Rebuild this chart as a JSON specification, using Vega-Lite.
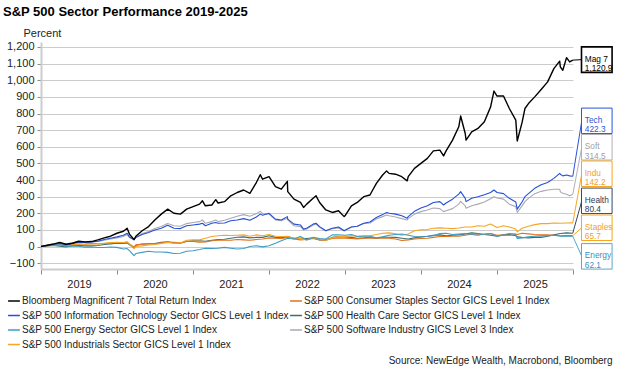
{
  "$schema": "https://vega.github.io/schema/vega-lite/v6.json",
  "width": 532,
  "height": 227,
  "autosize": "none",
  "padding": {"left": 41, "top": 42, "right": 51, "bottom": 105},
  "background": "white",
  "config": {
    "view": {"stroke": null},
    "font": "Liberation Sans",
    "text": {"font": "Liberation Sans"},
    "axisY": {
      "labelFontSize": 11,
      "labelColor": "#222222",
      "labelPadding": 3,
      "tickSize": 4,
      "tickColor": "#8a8a8a",
      "domainColor": "#cccccc",
      "domainWidth": 2,
      "grid": true,
      "gridColor": "#cccccc",
      "gridWidth": 1.2,
      "titleAngle": 0,
      "titleAlign": "left",
      "titleBaseline": "alphabetic",
      "titleX": -18,
      "titleY": -6,
      "titleFontSize": 11,
      "titleFontWeight": "normal",
      "titleColor": "#222222"
    }
  },
  "title": {
    "text": "S&P 500 Sector Performance 2019-2025",
    "anchor": "start",
    "frame": "group",
    "dx": -38,
    "offset": 8,
    "fontSize": 13,
    "fontWeight": "bold",
    "font": "Liberation Sans",
    "color": "#000000"
  },
  "datasets": {
    "series": [
      {"d": "2019-01-01", "m7": 0, "tech": 0, "soft": 0, "en": 0, "ind": 0, "stp": 0, "hc": 0},
      {"d": "2019-02-01", "m7": 8, "tech": 7, "soft": 8, "en": 8, "ind": 8, "stp": 5, "hc": 4},
      {"d": "2019-03-01", "m7": 15, "tech": 12, "soft": 14, "en": 9, "ind": 10, "stp": 8, "hc": 6},
      {"d": "2019-04-01", "m7": 25, "tech": 20, "soft": 22, "en": 12, "ind": 16, "stp": 10, "hc": 2},
      {"d": "2019-05-01", "m7": 14, "tech": 10, "soft": 15, "en": 2, "ind": 8, "stp": 8, "hc": -2},
      {"d": "2019-06-01", "m7": 20, "tech": 18, "soft": 22, "en": 4, "ind": 14, "stp": 12, "hc": 5},
      {"d": "2019-07-01", "m7": 32, "tech": 26, "soft": 30, "en": 2, "ind": 16, "stp": 14, "hc": 6},
      {"d": "2019-08-01", "m7": 28, "tech": 24, "soft": 28, "en": -4, "ind": 12, "stp": 15, "hc": 4},
      {"d": "2019-09-01", "m7": 30, "tech": 28, "soft": 27, "en": -3, "ind": 15, "stp": 18, "hc": 4},
      {"d": "2019-10-01", "m7": 40, "tech": 32, "soft": 30, "en": -6, "ind": 16, "stp": 17, "hc": 6},
      {"d": "2019-11-01", "m7": 52, "tech": 42, "soft": 38, "en": -6, "ind": 20, "stp": 18, "hc": 12},
      {"d": "2019-12-01", "m7": 62, "tech": 50, "soft": 45, "en": -3, "ind": 24, "stp": 21, "hc": 16},
      {"d": "2020-01-01", "m7": 80, "tech": 58, "soft": 52, "en": -5, "ind": 26, "stp": 24, "hc": 20},
      {"d": "2020-02-01", "m7": 92, "tech": 68, "soft": 60, "en": -15, "ind": 24, "stp": 22, "hc": 18},
      {"d": "2020-02-19", "m7": 110, "tech": 80, "soft": 72, "en": -12, "ind": 28, "stp": 27, "hc": 22},
      {"d": "2020-03-01", "m7": 75, "tech": 58, "soft": 55, "en": -25, "ind": 15, "stp": 16, "hc": 10},
      {"d": "2020-03-23", "m7": 42, "tech": 42, "soft": 40, "en": -55, "ind": -12, "stp": -3, "hc": -8},
      {"d": "2020-04-01", "m7": 62, "tech": 55, "soft": 55, "en": -42, "ind": 0, "stp": 10, "hc": 8},
      {"d": "2020-05-01", "m7": 95, "tech": 72, "soft": 78, "en": -35, "ind": 4, "stp": 14, "hc": 15},
      {"d": "2020-06-01", "m7": 120, "tech": 85, "soft": 90, "en": -28, "ind": 10, "stp": 15, "hc": 17},
      {"d": "2020-07-01", "m7": 160, "tech": 100, "soft": 108, "en": -33, "ind": 12, "stp": 16, "hc": 18},
      {"d": "2020-08-01", "m7": 195, "tech": 110, "soft": 120, "en": -33, "ind": 18, "stp": 22, "hc": 25},
      {"d": "2020-09-01", "m7": 225, "tech": 128, "soft": 138, "en": -35, "ind": 25, "stp": 26, "hc": 28},
      {"d": "2020-10-01", "m7": 200, "tech": 110, "soft": 125, "en": -42, "ind": 20, "stp": 26, "hc": 22},
      {"d": "2020-11-01", "m7": 195, "tech": 108, "soft": 122, "en": -40, "ind": 22, "stp": 22, "hc": 20},
      {"d": "2020-12-01", "m7": 225, "tech": 125, "soft": 138, "en": -28, "ind": 38, "stp": 30, "hc": 32},
      {"d": "2021-01-01", "m7": 240, "tech": 130, "soft": 145, "en": -25, "ind": 40, "stp": 30, "hc": 34},
      {"d": "2021-02-01", "m7": 255, "tech": 135, "soft": 150, "en": -18, "ind": 40, "stp": 26, "hc": 35},
      {"d": "2021-02-15", "m7": 275, "tech": 140, "soft": 160},
      {"d": "2021-03-01", "m7": 245, "tech": 125, "soft": 140, "en": -10, "ind": 50, "stp": 28, "hc": 32},
      {"d": "2021-04-01", "m7": 250, "tech": 140, "soft": 150, "en": -12, "ind": 60, "stp": 35, "hc": 38},
      {"d": "2021-04-20", "m7": 282, "tech": 145, "soft": 160},
      {"d": "2021-05-01", "m7": 262, "tech": 140, "soft": 150, "en": -10, "ind": 65, "stp": 38, "hc": 42},
      {"d": "2021-06-01", "m7": 270, "tech": 142, "soft": 158, "en": -5, "ind": 68, "stp": 38, "hc": 44},
      {"d": "2021-07-01", "m7": 305, "tech": 155, "soft": 170, "en": -10, "ind": 66, "stp": 38, "hc": 50},
      {"d": "2021-08-01", "m7": 325, "tech": 160, "soft": 182, "en": -15, "ind": 68, "stp": 42, "hc": 56},
      {"d": "2021-09-01", "m7": 340, "tech": 168, "soft": 192, "en": -12, "ind": 70, "stp": 40, "hc": 58},
      {"d": "2021-10-01", "m7": 320, "tech": 158, "soft": 182, "en": 0, "ind": 62, "stp": 38, "hc": 52},
      {"d": "2021-11-01", "m7": 385, "tech": 178, "soft": 198, "en": 5, "ind": 70, "stp": 42, "hc": 55},
      {"d": "2021-11-20", "m7": 432, "tech": 195, "soft": 212},
      {"d": "2021-12-01", "m7": 405, "tech": 188, "soft": 198, "en": -2, "ind": 65, "stp": 45, "hc": 55},
      {"d": "2022-01-01", "m7": 420, "tech": 200, "soft": 195, "en": 5, "ind": 72, "stp": 52, "hc": 65},
      {"d": "2022-02-01", "m7": 360, "tech": 165, "soft": 160, "en": 20, "ind": 62, "stp": 50, "hc": 55},
      {"d": "2022-03-01", "m7": 345, "tech": 160, "soft": 155, "en": 35, "ind": 60, "stp": 48, "hc": 52},
      {"d": "2022-03-30", "m7": 392, "tech": 180, "soft": 170},
      {"d": "2022-04-01", "m7": 330, "tech": 165, "soft": 160, "en": 50, "ind": 62, "stp": 55, "hc": 60},
      {"d": "2022-05-01", "m7": 285, "tech": 135, "soft": 125, "en": 45, "ind": 48, "stp": 45, "hc": 50},
      {"d": "2022-06-01", "m7": 265, "tech": 130, "soft": 120, "en": 60, "ind": 50, "stp": 40, "hc": 50},
      {"d": "2022-06-16", "m7": 235, "tech": 105, "soft": 100},
      {"d": "2022-07-01", "m7": 255, "tech": 110, "soft": 105, "en": 40, "ind": 40, "stp": 42, "hc": 48},
      {"d": "2022-08-01", "m7": 290, "tech": 135, "soft": 130, "en": 55, "ind": 52, "stp": 48, "hc": 52},
      {"d": "2022-08-15", "m7": 305, "tech": 140, "soft": 135},
      {"d": "2022-09-01", "m7": 265, "tech": 120, "soft": 115, "en": 48, "ind": 45, "stp": 40, "hc": 40},
      {"d": "2022-10-01", "m7": 220, "tech": 95, "soft": 95, "en": 45, "ind": 38, "stp": 38, "hc": 40},
      {"d": "2022-11-01", "m7": 205, "tech": 110, "soft": 108, "en": 70, "ind": 52, "stp": 48, "hc": 55},
      {"d": "2022-12-01", "m7": 215, "tech": 118, "soft": 112, "en": 70, "ind": 60, "stp": 52, "hc": 60},
      {"d": "2022-12-28", "m7": 180, "tech": 95, "soft": 95},
      {"d": "2023-01-01", "m7": 185, "tech": 98, "soft": 98, "en": 68, "ind": 60, "stp": 50, "hc": 58},
      {"d": "2023-02-01", "m7": 245, "tech": 118, "soft": 118, "en": 72, "ind": 65, "stp": 48, "hc": 55},
      {"d": "2023-03-01", "m7": 265, "tech": 122, "soft": 122, "en": 60, "ind": 62, "stp": 46, "hc": 50},
      {"d": "2023-04-01", "m7": 300, "tech": 140, "soft": 138, "en": 62, "ind": 65, "stp": 50, "hc": 52},
      {"d": "2023-05-01", "m7": 310, "tech": 148, "soft": 142, "en": 62, "ind": 65, "stp": 52, "hc": 56},
      {"d": "2023-06-01", "m7": 380, "tech": 175, "soft": 165, "en": 52, "ind": 72, "stp": 48, "hc": 50},
      {"d": "2023-07-01", "m7": 430, "tech": 192, "soft": 180, "en": 58, "ind": 80, "stp": 52, "hc": 56},
      {"d": "2023-07-20", "m7": 455, "tech": 205, "soft": 190},
      {"d": "2023-08-01", "m7": 440, "tech": 200, "soft": 185, "en": 68, "ind": 82, "stp": 50, "hc": 56},
      {"d": "2023-09-01", "m7": 435, "tech": 195, "soft": 178, "en": 72, "ind": 76, "stp": 45, "hc": 55},
      {"d": "2023-10-01", "m7": 420, "tech": 185, "soft": 168, "en": 75, "ind": 68, "stp": 36, "hc": 50},
      {"d": "2023-10-27", "m7": 395, "tech": 170, "soft": 160},
      {"d": "2023-11-01", "m7": 420, "tech": 180, "soft": 168, "en": 68, "ind": 75, "stp": 40, "hc": 45},
      {"d": "2023-12-01", "m7": 470, "tech": 212, "soft": 195, "en": 60, "ind": 95, "stp": 45, "hc": 52},
      {"d": "2024-01-01", "m7": 500, "tech": 232, "soft": 210, "en": 58, "ind": 100, "stp": 48, "hc": 58},
      {"d": "2024-02-01", "m7": 530, "tech": 245, "soft": 220, "en": 60, "ind": 102, "stp": 50, "hc": 62},
      {"d": "2024-03-01", "m7": 575, "tech": 265, "soft": 232, "en": 65, "ind": 110, "stp": 55, "hc": 68},
      {"d": "2024-04-01", "m7": 580, "tech": 270, "soft": 228, "en": 78, "ind": 112, "stp": 60, "hc": 70},
      {"d": "2024-04-19", "m7": 545, "tech": 250, "soft": 210},
      {"d": "2024-05-01", "m7": 575, "tech": 262, "soft": 215, "en": 80, "ind": 110, "stp": 60, "hc": 64},
      {"d": "2024-06-01", "m7": 640, "tech": 285, "soft": 228, "en": 72, "ind": 108, "stp": 62, "hc": 68},
      {"d": "2024-07-01", "m7": 720, "tech": 315, "soft": 255, "en": 75, "ind": 112, "stp": 62, "hc": 70},
      {"d": "2024-07-10", "m7": 785, "tech": 330, "soft": 272},
      {"d": "2024-08-01", "m7": 680, "tech": 290, "soft": 245, "en": 78, "ind": 118, "stp": 68, "hc": 75},
      {"d": "2024-08-05", "m7": 640, "tech": 270, "soft": 230},
      {"d": "2024-09-01", "m7": 690, "tech": 290, "soft": 245, "en": 72, "ind": 118, "stp": 75, "hc": 82},
      {"d": "2024-10-01", "m7": 710, "tech": 300, "soft": 255, "en": 68, "ind": 125, "stp": 75, "hc": 78},
      {"d": "2024-11-01", "m7": 750, "tech": 312, "soft": 268, "en": 75, "ind": 122, "stp": 72, "hc": 72},
      {"d": "2024-12-01", "m7": 840, "tech": 325, "soft": 288, "en": 78, "ind": 135, "stp": 78, "hc": 68},
      {"d": "2024-12-17", "m7": 935, "tech": 340, "soft": 300},
      {"d": "2025-01-01", "m7": 905, "tech": 325, "soft": 292, "en": 62, "ind": 115, "stp": 68, "hc": 62},
      {"d": "2025-02-01", "m7": 905, "tech": 318, "soft": 285, "en": 70, "ind": 125, "stp": 70, "hc": 70},
      {"d": "2025-03-01", "m7": 830, "tech": 290, "soft": 255, "en": 68, "ind": 118, "stp": 78, "hc": 72},
      {"d": "2025-04-01", "m7": 760, "tech": 268, "soft": 240, "en": 72, "ind": 105, "stp": 75, "hc": 65},
      {"d": "2025-04-08", "m7": 635, "tech": 225, "soft": 205, "en": 48, "ind": 88, "stp": 72, "hc": 58},
      {"d": "2025-05-01", "m7": 745, "tech": 268, "soft": 245, "en": 52, "ind": 110, "stp": 80, "hc": 55},
      {"d": "2025-05-15", "m7": 830, "tech": 300, "soft": 270},
      {"d": "2025-06-01", "m7": 860, "tech": 318, "soft": 290, "en": 58, "ind": 122, "stp": 76, "hc": 52},
      {"d": "2025-07-01", "m7": 900, "tech": 350, "soft": 318, "en": 62, "ind": 132, "stp": 72, "hc": 55},
      {"d": "2025-08-01", "m7": 944, "tech": 372, "soft": 332, "en": 64, "ind": 138, "stp": 70, "hc": 55},
      {"d": "2025-09-01", "m7": 990, "tech": 385, "soft": 340, "en": 65, "ind": 138, "stp": 70, "hc": 62},
      {"d": "2025-10-01", "m7": 1070, "tech": 410, "soft": 345, "en": 68, "ind": 142, "stp": 68, "hc": 70},
      {"d": "2025-10-29", "m7": 1115, "tech": 440, "soft": 345},
      {"d": "2025-11-01", "m7": 1080, "tech": 435, "soft": 330, "en": 62, "ind": 140, "stp": 65, "hc": 78},
      {"d": "2025-11-13", "m7": 1060, "tech": 425, "soft": 320},
      {"d": "2025-12-01", "m7": 1136, "tech": 430, "soft": 315, "en": 64, "ind": 142, "stp": 66, "hc": 82},
      {"d": "2025-12-16", "m7": 1110, "tech": 425, "soft": 305},
      {"d": "2025-12-31", "m7": 1120.9, "tech": 422.3, "soft": 314.5, "en": 62.1, "ind": 142.2, "stp": 65.7, "hc": 80.4}
    ],
    "callouts": [
      {"s": "m7", "lbl": "Mag 7\n1,120.9", "d": "2025-12-31", "v": 1120.9, "lv": 1124},
      {"s": "tech", "lbl": "Tech\n422.3", "d": "2025-12-31", "v": 422.3, "lv": 756},
      {"s": "soft", "lbl": "Soft\n314.5", "d": "2025-12-31", "v": 314.5, "lv": 597},
      {"s": "ind", "lbl": "Indu\n142.2", "d": "2025-12-31", "v": 142.2, "lv": 438},
      {"s": "hc", "lbl": "Health\n80.4", "d": "2025-12-31", "v": 80.4, "lv": 275},
      {"s": "stp", "lbl": "Staples\n65.7", "d": "2025-12-31", "v": 65.7, "lv": 113},
      {"s": "en", "lbl": "Energy\n62.1", "d": "2025-12-31", "v": 62.1, "lv": -59}
    ]
  },
  "encoding": {
    "x": {
      "field": "d",
      "type": "temporal",
      "scale": {
        "type": "utc",
        "domain": [
          {"year": 2019, "month": 1, "date": 1, "utc": true},
          {"year": 2026, "month": 1, "date": 1, "utc": true}
        ]
      },
      "axis": {
        "values": [
          {"year": 2019, "month": 1, "date": 1, "utc": true},
          {"year": 2020, "month": 1, "date": 1, "utc": true},
          {"year": 2021, "month": 1, "date": 1, "utc": true},
          {"year": 2022, "month": 1, "date": 1, "utc": true},
          {"year": 2023, "month": 1, "date": 1, "utc": true},
          {"year": 2024, "month": 1, "date": 1, "utc": true},
          {"year": 2025, "month": 1, "date": 1, "utc": true},
          {"year": 2026, "month": 1, "date": 1, "utc": true}
        ],
        "labelExpr": "utcFormat(datum.value, '%Y') == '2026' ? '' : utcFormat(datum.value, '%Y')",
        "labelOffset": 38,
        "labelAlign": "center",
        "labelFlush": false,
        "labelOverlap": false,
        "labelFontSize": 11,
        "labelColor": "#222222",
        "labelPadding": 4,
        "tickSize": 5,
        "tickColor": "#8a8a8a",
        "tickWidth": 1,
        "domainColor": "#cccccc",
        "domainWidth": 2,
        "grid": false,
        "title": "Source: NewEdge Wealth, Macrobond, Bloomberg",
        "titleAlign": "right",
        "titleAnchor": "end",
        "titleX": 571,
        "titleY": 94,
        "titleBaseline": "alphabetic",
        "titleFontSize": 10,
        "titleFontWeight": "normal",
        "titleColor": "#222222"
      }
    }
  },
  "layer": [
    {
      "data": {"name": "series"},
      "transform": [
        {"fold": ["hc", "stp", "ind", "en", "soft", "tech", "m7"], "as": ["s", "v"]},
        {"filter": "isValid(datum.v)"}
      ],
      "mark": {"type": "line", "clip": false, "strokeJoin": "round"},
      "encoding": {
        "y": {
          "field": "v",
          "type": "quantitative",
          "scale": {"domain": [-135, 1230], "nice": false, "zero": false},
          "axis": {
            "values": [-100, 0, 100, 200, 300, 400, 500, 600, 700, 800, 900, 1000, 1100, 1200],
            "format": ",.0f",
            "title": "Percent"
          }
        },
        "color": {
          "field": "s",
          "type": "nominal",
          "scale": {
            "domain": ["m7", "tech", "en", "ind", "stp", "hc", "soft"],
            "range": ["#000000", "#2450d6", "#3d9cc4", "#f5a623", "#e0701a", "#3f6f6c", "#a9a9b4"]
          },
          "legend": {
            "title": null,
            "orient": "none",
            "legendX": -34,
            "legendY": 252,
            "columns": 2,
            "columnPadding": -16,
            "rowPadding": 2.5,
            "symbolType": "stroke",
            "symbolSize": 140,
            "symbolStrokeWidth": 1.5,
            "labelFontSize": 10,
            "labelFont": "Liberation Sans",
            "labelColor": "#222222",
            "labelOffset": 1,
            "labelLimit": 400,
            "labelExpr": "datum.label == 'm7' ? 'Bloomberg Magnificent 7 Total Return Index' : datum.label == 'tech' ? 'S&P 500 Information Technology Sector GICS Level 1 Index' : datum.label == 'en' ? 'S&P 500 Energy Sector GICS Level 1 Index' : datum.label == 'ind' ? 'S&P 500 Industrials Sector GICS Level 1 Index' : datum.label == 'stp' ? 'S&P 500 Consumer Staples Sector GICS Level 1 Index' : datum.label == 'hc' ? 'S&P 500 Health Care Sector GICS Level 1 Index' : 'S&P 500 Software Industry GICS Level 3 Index'"
          }
        },
        "strokeWidth": {"condition": {"test": "datum.s == 'm7'", "value": 1.4}, "value": 1.1}
      }
    },
    {
      "data": {"name": "callouts"},
      "mark": {"type": "rule", "x2Offset": 9, "clip": false, "strokeWidth": 1},
      "encoding": {
        "y": {
          "field": "v",
          "type": "quantitative",
          "axis": {
            "values": [-100, 0, 100, 200, 300, 400, 500, 600, 700, 800, 900, 1000, 1100, 1200],
            "format": ",.0f",
            "title": "Percent"
          }
        },
        "x2": {"field": "d"},
        "y2": {"field": "lv"},
        "stroke": {
          "field": "s",
          "type": "nominal",
          "legend": null,
          "scale": {
            "domain": ["m7", "tech", "soft", "ind", "hc", "stp", "en"],
            "range": ["#000000", "#2a55d8", "#b0b0b8", "#f5a623", "#3a4660", "#f5a623", "#5aa8cc"]
          }
        }
      }
    },
    {
      "data": {"name": "callouts"},
      "mark": {
        "type": "point",
        "shape": "M-1.2,-1H1.2V1H-1.2Z",
        "size": 650,
        "xOffset": 24,
        "fill": "#ffffff",
        "filled": false,
        "opacity": 1,
        "clip": false
      },
      "encoding": {
        "y": {
          "field": "lv",
          "type": "quantitative",
          "axis": {
            "values": [-100, 0, 100, 200, 300, 400, 500, 600, 700, 800, 900, 1000, 1100, 1200],
            "format": ",.0f",
            "title": "Percent"
          }
        },
        "stroke": {"field": "s", "type": "nominal", "legend": null},
        "strokeWidth": {"condition": {"test": "datum.s == 'm7'", "value": 1.6}, "value": 1}
      }
    },
    {
      "data": {"name": "callouts"},
      "mark": {
        "type": "text",
        "align": "left",
        "baseline": "middle",
        "dx": 12,
        "fontSize": 8.3,
        "lineBreak": "\n",
        "lineHeight": 9.5,
        "clip": false
      },
      "encoding": {
        "y": {
          "field": "lv",
          "type": "quantitative",
          "axis": {
            "values": [-100, 0, 100, 200, 300, 400, 500, 600, 700, 800, 900, 1000, 1100, 1200],
            "format": ",.0f",
            "title": "Percent"
          }
        },
        "text": {"field": "lbl"},
        "fill": {
          "field": "s",
          "type": "nominal",
          "legend": null,
          "scale": {
            "domain": ["m7", "tech", "soft", "ind", "hc", "stp", "en"],
            "range": ["#000000", "#2a55d8", "#a0a0a8", "#f0a030", "#2e3a58", "#f0a030", "#3a8fc0"]
          }
        },
        "fontWeight": {"condition": {"test": "datum.s == 'm7'", "value": "bold"}, "value": "normal"}
      }
    }
  ]
}
